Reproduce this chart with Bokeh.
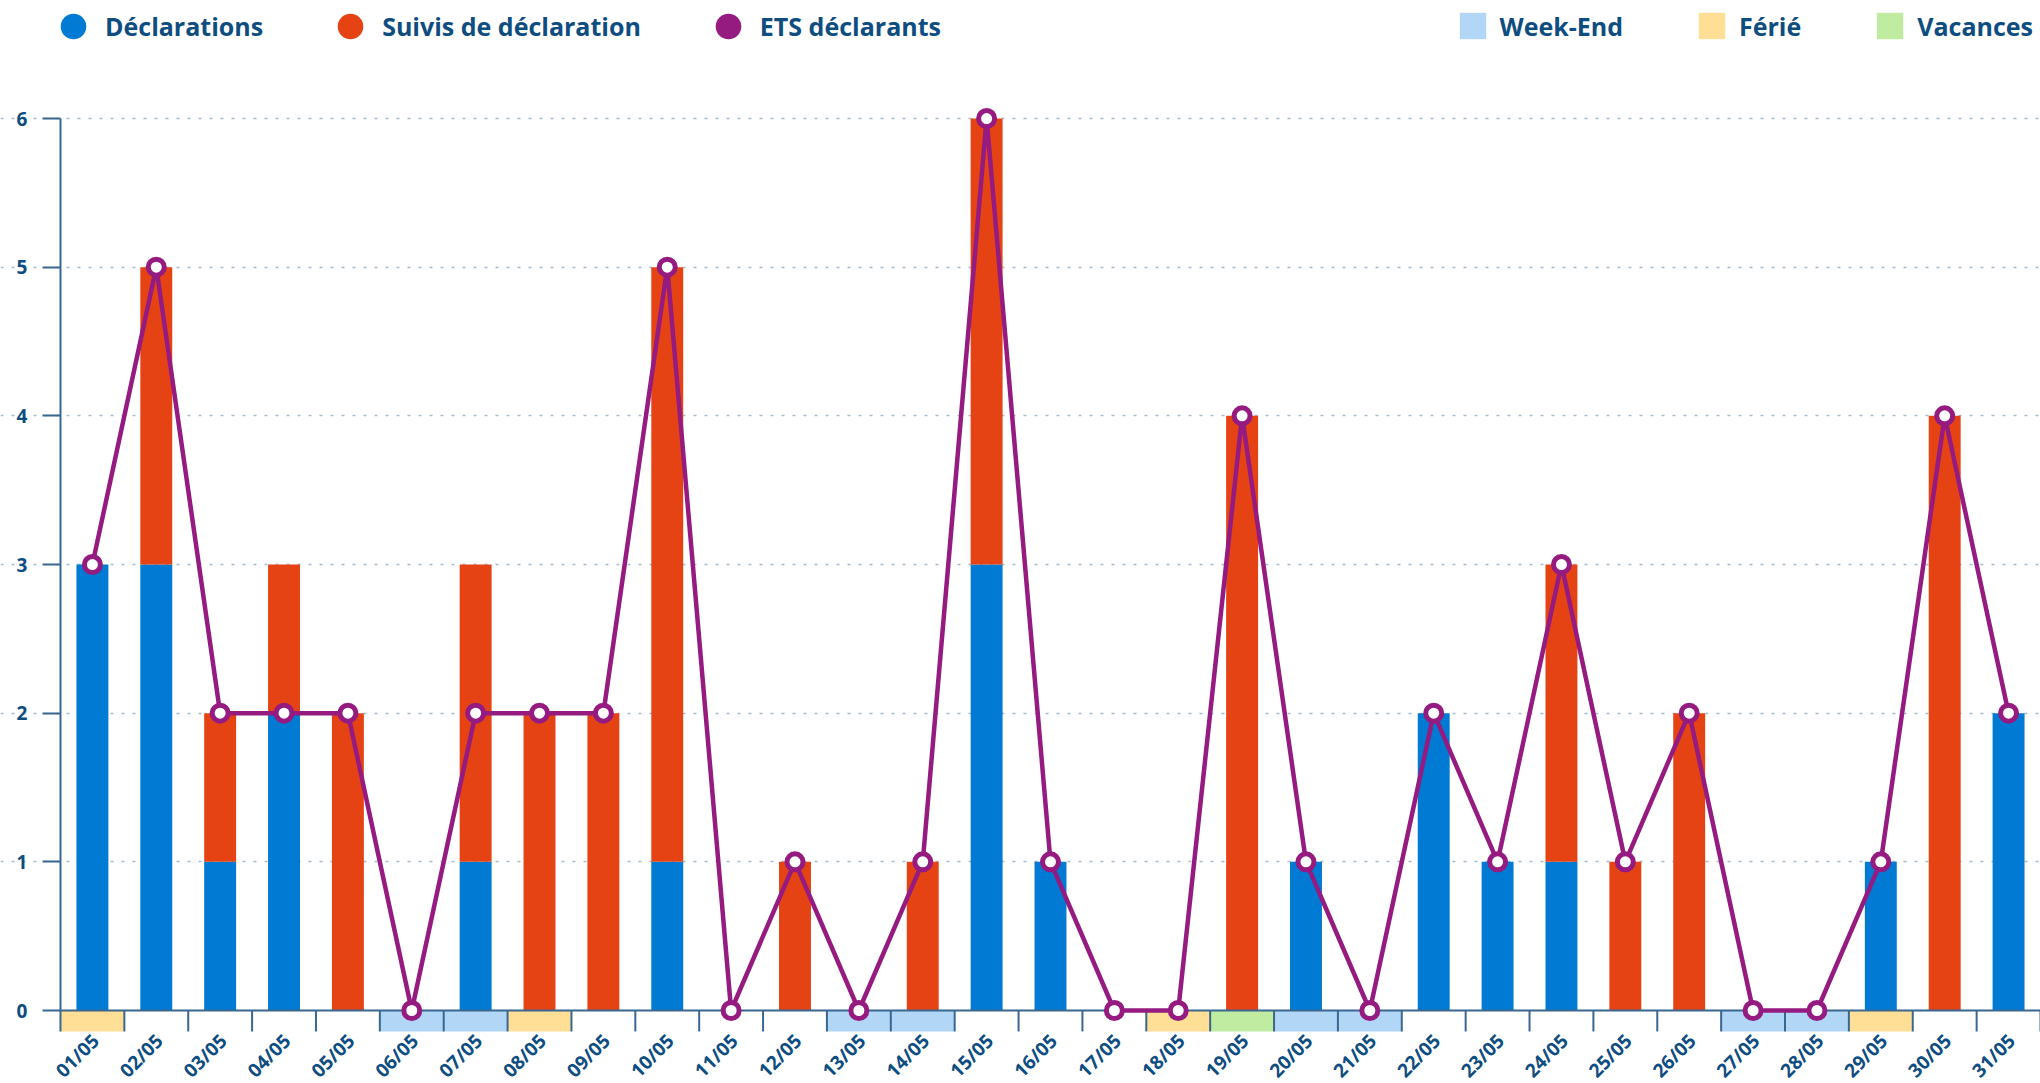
import numpy as np
from bokeh.plotting import figure
from bokeh.models import (ColumnDataSource, Range1d, FixedTicker, Legend, LegendItem)
from bokeh.core.properties import value
from bokeh.embed import file_html
from bokeh.resources import INLINE

# ---------------- data ----------------
dates = ["01/05", "02/05", "03/05", "04/05", "05/05", "06/05", "07/05", "08/05",
         "09/05", "10/05", "11/05", "12/05", "13/05", "14/05", "15/05", "16/05",
         "17/05", "18/05", "19/05", "20/05", "21/05", "22/05", "23/05", "24/05",
         "25/05", "26/05", "27/05", "28/05", "29/05", "30/05", "31/05"]
declarations = [3, 3, 1, 2, 0, 0, 1, 0, 0, 1, 0, 0, 0, 0, 3, 1,
                0, 0, 0, 1, 0, 2, 1, 1, 0, 0, 0, 0, 1, 0, 2]
suivis = [0, 2, 1, 1, 2, 0, 2, 2, 2, 4, 0, 1, 0, 1, 3, 0,
          0, 0, 4, 0, 0, 0, 0, 2, 1, 2, 0, 0, 0, 4, 0]
ets = [3, 5, 2, 2, 2, 0, 2, 2, 2, 5, 0, 1, 0, 1, 6, 1,
       0, 0, 4, 1, 0, 2, 1, 3, 1, 2, 0, 0, 1, 4, 2]
day_type = ["Férié", "", "", "", "", "Week-End", "Week-End", "Férié",
            "", "", "", "", "Week-End", "Week-End", "", "",
            "", "Férié", "Vacances", "Week-End", "Week-End", "", "", "",
            "", "", "Week-End", "Week-End", "Férié", "", ""]
band_types = ["Week-End", "Férié", "Vacances"]
series_names = ["Déclarations", "Suivis de déclaration", "ETS déclarants"]
y_ticks = [0, 1, 2, 3, 4, 5, 6]

# ---------------- style ----------------
BLUE = "#007ad3"
ORANGE = "#e64314"
PURPLE = "#951b81"
BAND_COLORS = {"Week-End": "#b1d6f6", "Férié": "#fedf95", "Vacances": "#bfeca0"}
TEXT = "#0e4d7f"
AXIS = "#3a6790"
GRID = "#a3bccf"
FONT = "Open Sans"
BAND_BOTTOM = -0.141
Y_TOP = 6.794          # headroom above 6 for the legend row
Y_BOTTOM = -0.491      # room under the bands for the date labels
X_START = -1.439       # room left of the first day for the y-axis labels
FRAME_H = 1083
FRAME_W = 2040
LEFT = 60              # px between the frame edge and the y axis

n = len(dates)
x = list(range(n))
x_lo, x_hi = -0.5, n - 0.5
src = ColumnDataSource(dict(x=x, date=dates, decl=declarations, suivi=suivis, ets=ets,
                            ly=[BAND_BOTTOM] * n))

p = figure(frame_width=FRAME_W, frame_height=FRAME_H, output_backend="svg", toolbar_location=None,
           x_range=Range1d(X_START, x_hi),
           y_range=Range1d(Y_BOTTOM, Y_TOP),
           min_border_left=0, min_border_right=0, min_border_top=0,
           min_border_bottom=0)
p.outline_line_color = None
p.background_fill_color = "white"
p.border_fill_color = "white"

# bands under the axis
band_renderers = {}
for t in band_types:
    bx = [i for i, d in enumerate(day_type) if d == t]
    bsrc = ColumnDataSource(dict(x=bx, top=[0] * len(bx), bottom=[BAND_BOTTOM] * len(bx)))
    band_renderers[t] = p.vbar(x="x", top="top", bottom="bottom", width=1.0, source=bsrc,
                               fill_color=BAND_COLORS[t], line_color=None)

# stacked bars
p.vbar_stack(["decl", "suivi"], x="x", width=0.5, source=src,
             fill_color=[BLUE, ORANGE], line_color=None)

# grid
p.xgrid.visible = False
p.ygrid.ticker = FixedTicker(ticks=y_ticks[1:])
p.ygrid.bounds = (x_lo, x_hi)
p.ygrid.grid_line_color = GRID
p.ygrid.grid_line_dash = "3 8"
p.ygrid.grid_line_width = 1.5

# horizontal axis line at 0 and category boundary ticks
p.segment(x0=[x_lo], y0=[0], x1=[x_hi], y1=[0], line_color=AXIS, line_width=2)
bounds = [i - 0.5 for i in range(n + 1)]
tsrc = ColumnDataSource(dict(x=bounds, y0=[0] * len(bounds), y1=[BAND_BOTTOM] * len(bounds)))
p.segment(x0="x", y0="y0", x1="x", y1="y1", source=tsrc, line_color=AXIS, line_width=2)

# ETS line
rl = p.line(x="x", y="ets", source=src, line_color=PURPLE, line_width=4.5)
rp = p.scatter(x="x", y="ets", source=src, marker="circle", size=16,
               fill_color="white", line_color=PURPLE, line_width=5)

# date labels (rotated) under the bands
p.text(x="x", y="ly", text="date", source=src, angle=np.pi / 4,
       text_align="right", text_baseline="middle", x_offset=3, y_offset=6,
       text_font=value(FONT), text_font_size="19px",
       text_font_style="bold", text_color=TEXT)

# axes
p.xaxis.visible = False

ya = p.yaxis[0]
ya.fixed_location = x_lo
ya.ticker = FixedTicker(ticks=y_ticks)
ya.bounds = (0, max(y_ticks))
ya.axis_line_color = AXIS
ya.axis_line_width = 2
ya.major_tick_line_color = AXIS
ya.major_tick_line_width = 2
ya.major_tick_out = 18
ya.major_tick_in = 0
ya.minor_tick_line_color = None
ya.major_label_standoff = 15
ya.major_label_text_font = FONT
ya.major_label_text_font_size = "19px"
ya.major_label_text_font_style = "bold"
ya.major_label_text_color = TEXT

# legend proxies (one invisible point each)
proxies = []
for c in [BLUE, ORANGE, PURPLE]:
    proxies.append(p.scatter(x=[np.nan], y=[np.nan], marker="circle",
                             fill_color=c, line_color=None))

def style_legend(lg):
    lg.orientation = "horizontal"
    lg.padding = 0
    lg.margin = 0
    lg.border_line_color = None
    lg.background_fill_alpha = 0
    lg.label_text_font = FONT
    lg.label_text_font_size = "25px"
    lg.label_text_font_style = "bold"
    lg.label_text_color = TEXT
    lg.click_policy = "none"

# legend row centred 26 px from the top
leg1 = Legend(items=[LegendItem(label=nm, renderers=[r]) for nm, r in zip(series_names, proxies)],
              location=(LEFT - 19, FRAME_H - 26 - 32))
style_legend(leg1)
leg1.glyph_width = 64
leg1.glyph_height = 64
leg1.label_standoff = -10
leg1.spacing = 55

leg2 = Legend(items=[LegendItem(label=t, renderers=[band_renderers[t]]) for t in band_types],
              location=(LEFT + 1395.5, FRAME_H - 26 - 16.5))
style_legend(leg2)
leg2.glyph_width = 33
leg2.glyph_height = 33
leg2.label_standoff = 11
leg2.spacing = 72

p.add_layout(leg1, "center")
p.add_layout(leg2, "center")

open("out.html", "w").write(file_html(p, INLINE))
